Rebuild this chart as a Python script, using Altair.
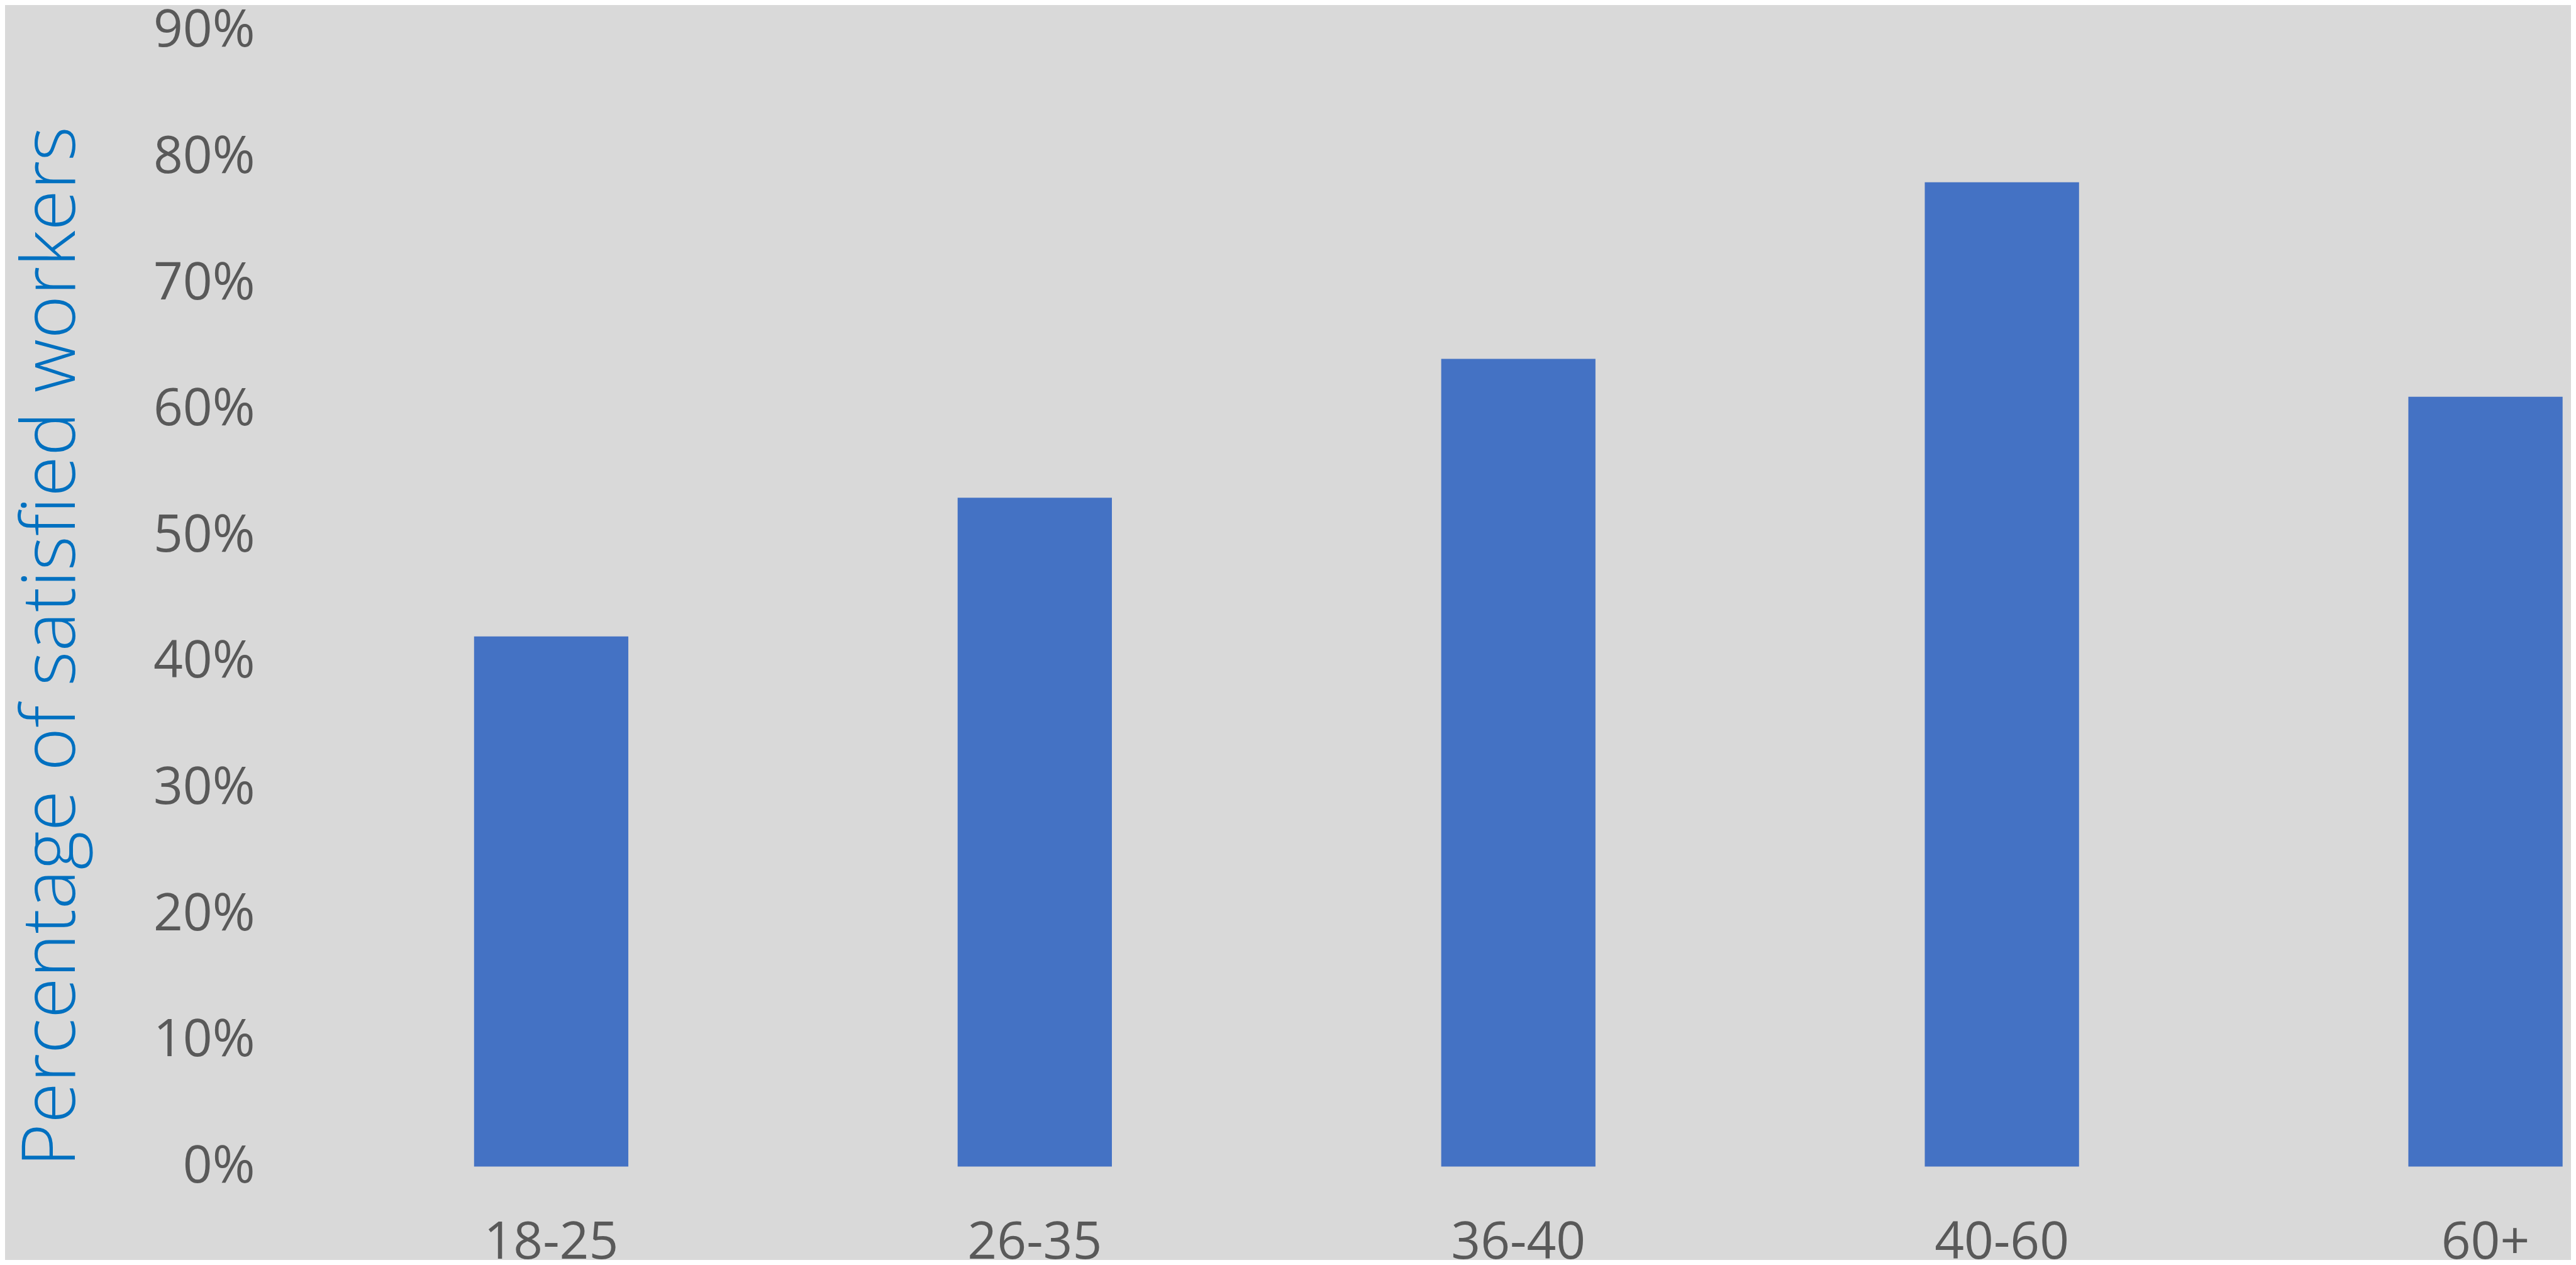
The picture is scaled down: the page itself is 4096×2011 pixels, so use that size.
import altair as alt
import pandas as pd

categories = ["18-25", "26-35", "36-40", "40-60", "60+"]
values = [0.42, 0.53, 0.64, 0.78, 0.61]
y_ticks = [0, 0.1, 0.2, 0.3, 0.4, 0.5, 0.6, 0.7, 0.8, 0.9]

df = pd.DataFrame({"age": categories, "pct": values})

FONT = "Open Sans"

chart = alt.Chart(df).mark_bar(color="#4472C4").encode(
    x=alt.X(
        "age:N",
        sort=categories,
        title=None,
        scale=alt.Scale(paddingInner=0.681, paddingOuter=0.2257, align=0.9617),
        axis=alt.Axis(
            labelAngle=0,
            labelFont=FONT,
            labelFontSize=82,
            labelColor="#595959",
            labelPadding=81,
            labelLimit=0,
            ticks=False,
            domain=False,
            grid=False,
        ),
    ),
    y=alt.Y(
        "pct:Q",
        title="Percentage of satisfied workers",
        scale=alt.Scale(domain=[0, 0.9], nice=False),
        axis=alt.Axis(
            values=y_ticks,
            format=".0%",
            labelFont=FONT,
            labelFontSize=82,
            labelColor="#595959",
            labelPadding=15,
            labelLimit=0,
            ticks=False,
            domain=False,
            grid=False,
            titleFont=FONT,
            titleFontSize=118,
            titleFontWeight=300,
            titleColor="#0070C0",
            titleAnchor="start",
            titlePadding=100,
        ),
    ),
).properties(
    width=3668,
    height=1805.5,
    background="#D9D9D9",
    padding={"left": 412, "top": 40.9, "right": 0, "bottom": 148.6},
    autosize=alt.AutoSizeParams(type="none"),
).configure_view(stroke=None)

chart.save("out.html", embed_options={"renderer": "svg", "actions": False})
